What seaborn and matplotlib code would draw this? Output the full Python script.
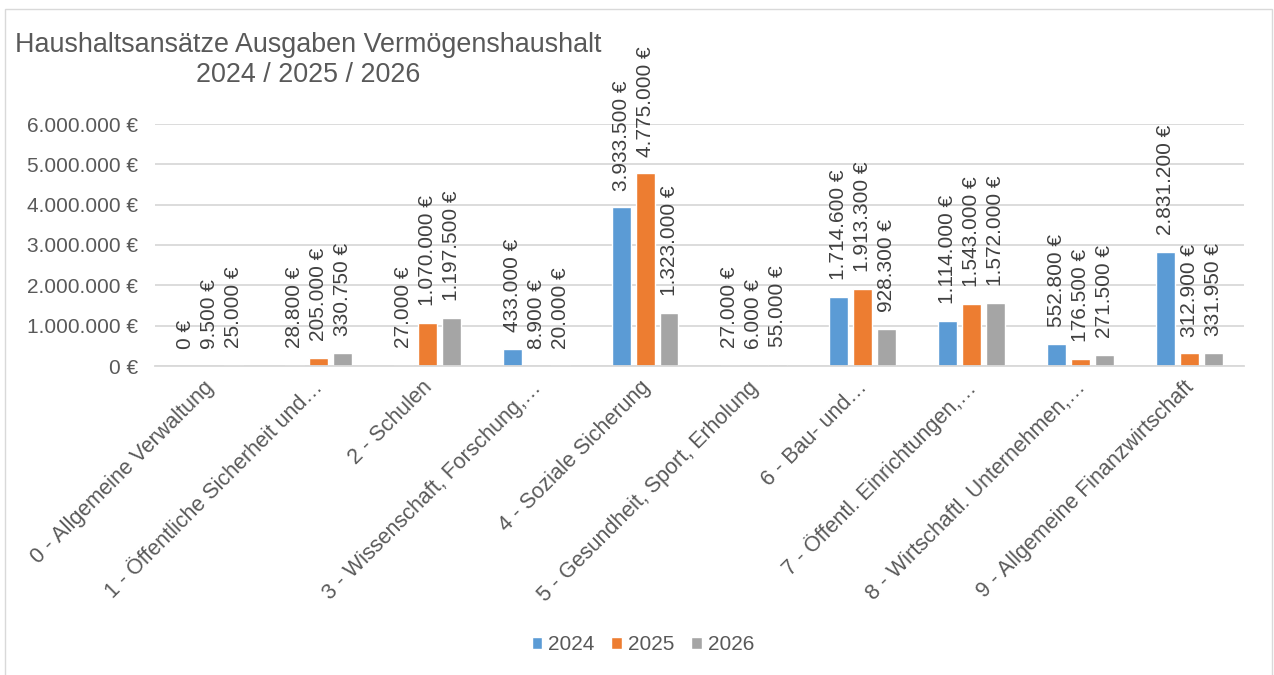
import pandas as pd
import matplotlib.pyplot as plt
import seaborn as sns
from matplotlib.patches import Rectangle
from matplotlib.ticker import FuncFormatter
from matplotlib.transforms import ScaledTranslation

categories = [
    "0 - Allgemeine Verwaltung",
    "1 - Öffentliche Sicherheit und…",
    "2 - Schulen",
    "3 - Wissenschaft, Forschung,…",
    "4 - Soziale Sicherung",
    "5 - Gesundheit, Sport, Erholung",
    "6 - Bau- und…",
    "7 - Öffentl. Einrichtungen,…",
    "8 - Wirtschaftl. Unternehmen,…",
    "9 - Allgemeine Finanzwirtschaft",
]
years = ["2024", "2025", "2026"]
values_2024 = [0, 28800, 27000, 433000, 3933500, 27000, 1714600, 1114000, 552800, 2831200]
values_2025 = [9500, 205000, 1070000, 8900, 4775000, 6000, 1913300, 1543000, 176500, 312900]
values_2026 = [25000, 330750, 1197500, 20000, 1323000, 55000, 928300, 1572000, 271500, 331950]
colors = ["#5B9BD5", "#ED7D31", "#A5A5A5"]

rows = []
for year, vals in zip(years, [values_2024, values_2025, values_2026]):
    for cat, v in zip(categories, vals):
        rows.append({"Kategorie": cat, "Jahr": year, "Betrag": v})
df = pd.DataFrame(rows)


def euro(v):
    return f"{v:,.0f}".replace(",", ".") + " €"


sns.set_style("white")
plt.rcParams["font.family"] = ["Liberation Sans", "DejaVu Sans"]

fig = plt.figure(figsize=(12.74, 6.75), dpi=100)
ax = fig.add_axes([155 / 1274, 1 - 366 / 675, (1244 - 155) / 1274, (366 - 124) / 675])

sns.barplot(data=df, x="Kategorie", y="Betrag", hue="Jahr", hue_order=years,
            palette=colors, width=0.66, gap=0.21, saturation=1, ax=ax)

for cont, vals in zip(ax.containers, [values_2024, values_2025, values_2026]):
    ax.bar_label(cont, labels=[euro(v) for v in vals], rotation=90, padding=12,
                 fontsize=15, color="#404040")

ax.set_ylim(0, 6000000)
ax.set_yticks(range(0, 6000001, 1000000))
ax.yaxis.set_major_formatter(FuncFormatter(lambda v, p: euro(v)))
ax.set_xlabel("")
ax.set_ylabel("")
ax.yaxis.grid(True, color="#d9d9d9", lw=1.3)
ax.set_axisbelow(True)
for s in ["top", "left", "right"]:
    ax.spines[s].set_visible(False)
ax.spines["bottom"].set_color("#d9d9d9")
ax.spines["bottom"].set_linewidth(1.3)
ax.tick_params(axis="y", length=0, pad=12, labelsize=15, labelcolor="#595959")
ax.tick_params(axis="x", length=0, pad=8, labelsize=15.5, labelcolor="#595959")
shift = ScaledTranslation(9 / 100, 0, fig.dpi_scale_trans)
for lbl in ax.get_xticklabels():
    lbl.set_rotation(45)
    lbl.set_ha("right")
    lbl.set_transform(lbl.get_transform() + shift)

sns.move_legend(ax, loc="center", bbox_to_anchor=(0.5 + 6 / 1274, 1 - 645 / 675),
                bbox_transform=fig.transFigure, ncol=3, frameon=False, title=None,
                fontsize=15, handlelength=0.5, handleheight=0.5,
                handletextpad=0.3, columnspacing=0.8, labelcolor="#595959")

fig.text(308 / 1274, 1 - 32 / 675, "Haushaltsansätze Ausgaben Vermögenshaushalt\n2024 / 2025 / 2026",
         ha="center", va="top", multialignment="center", fontsize=19.4, color="#595959")

fig.patches.append(Rectangle((5 / 1274, -0.05), (1272 - 5) / 1274, 1 - 9 / 675 + 0.05,
                             transform=fig.transFigure, fill=False, edgecolor="#d9d9d9", lw=1))

fig.savefig("out.png", dpi=100)
